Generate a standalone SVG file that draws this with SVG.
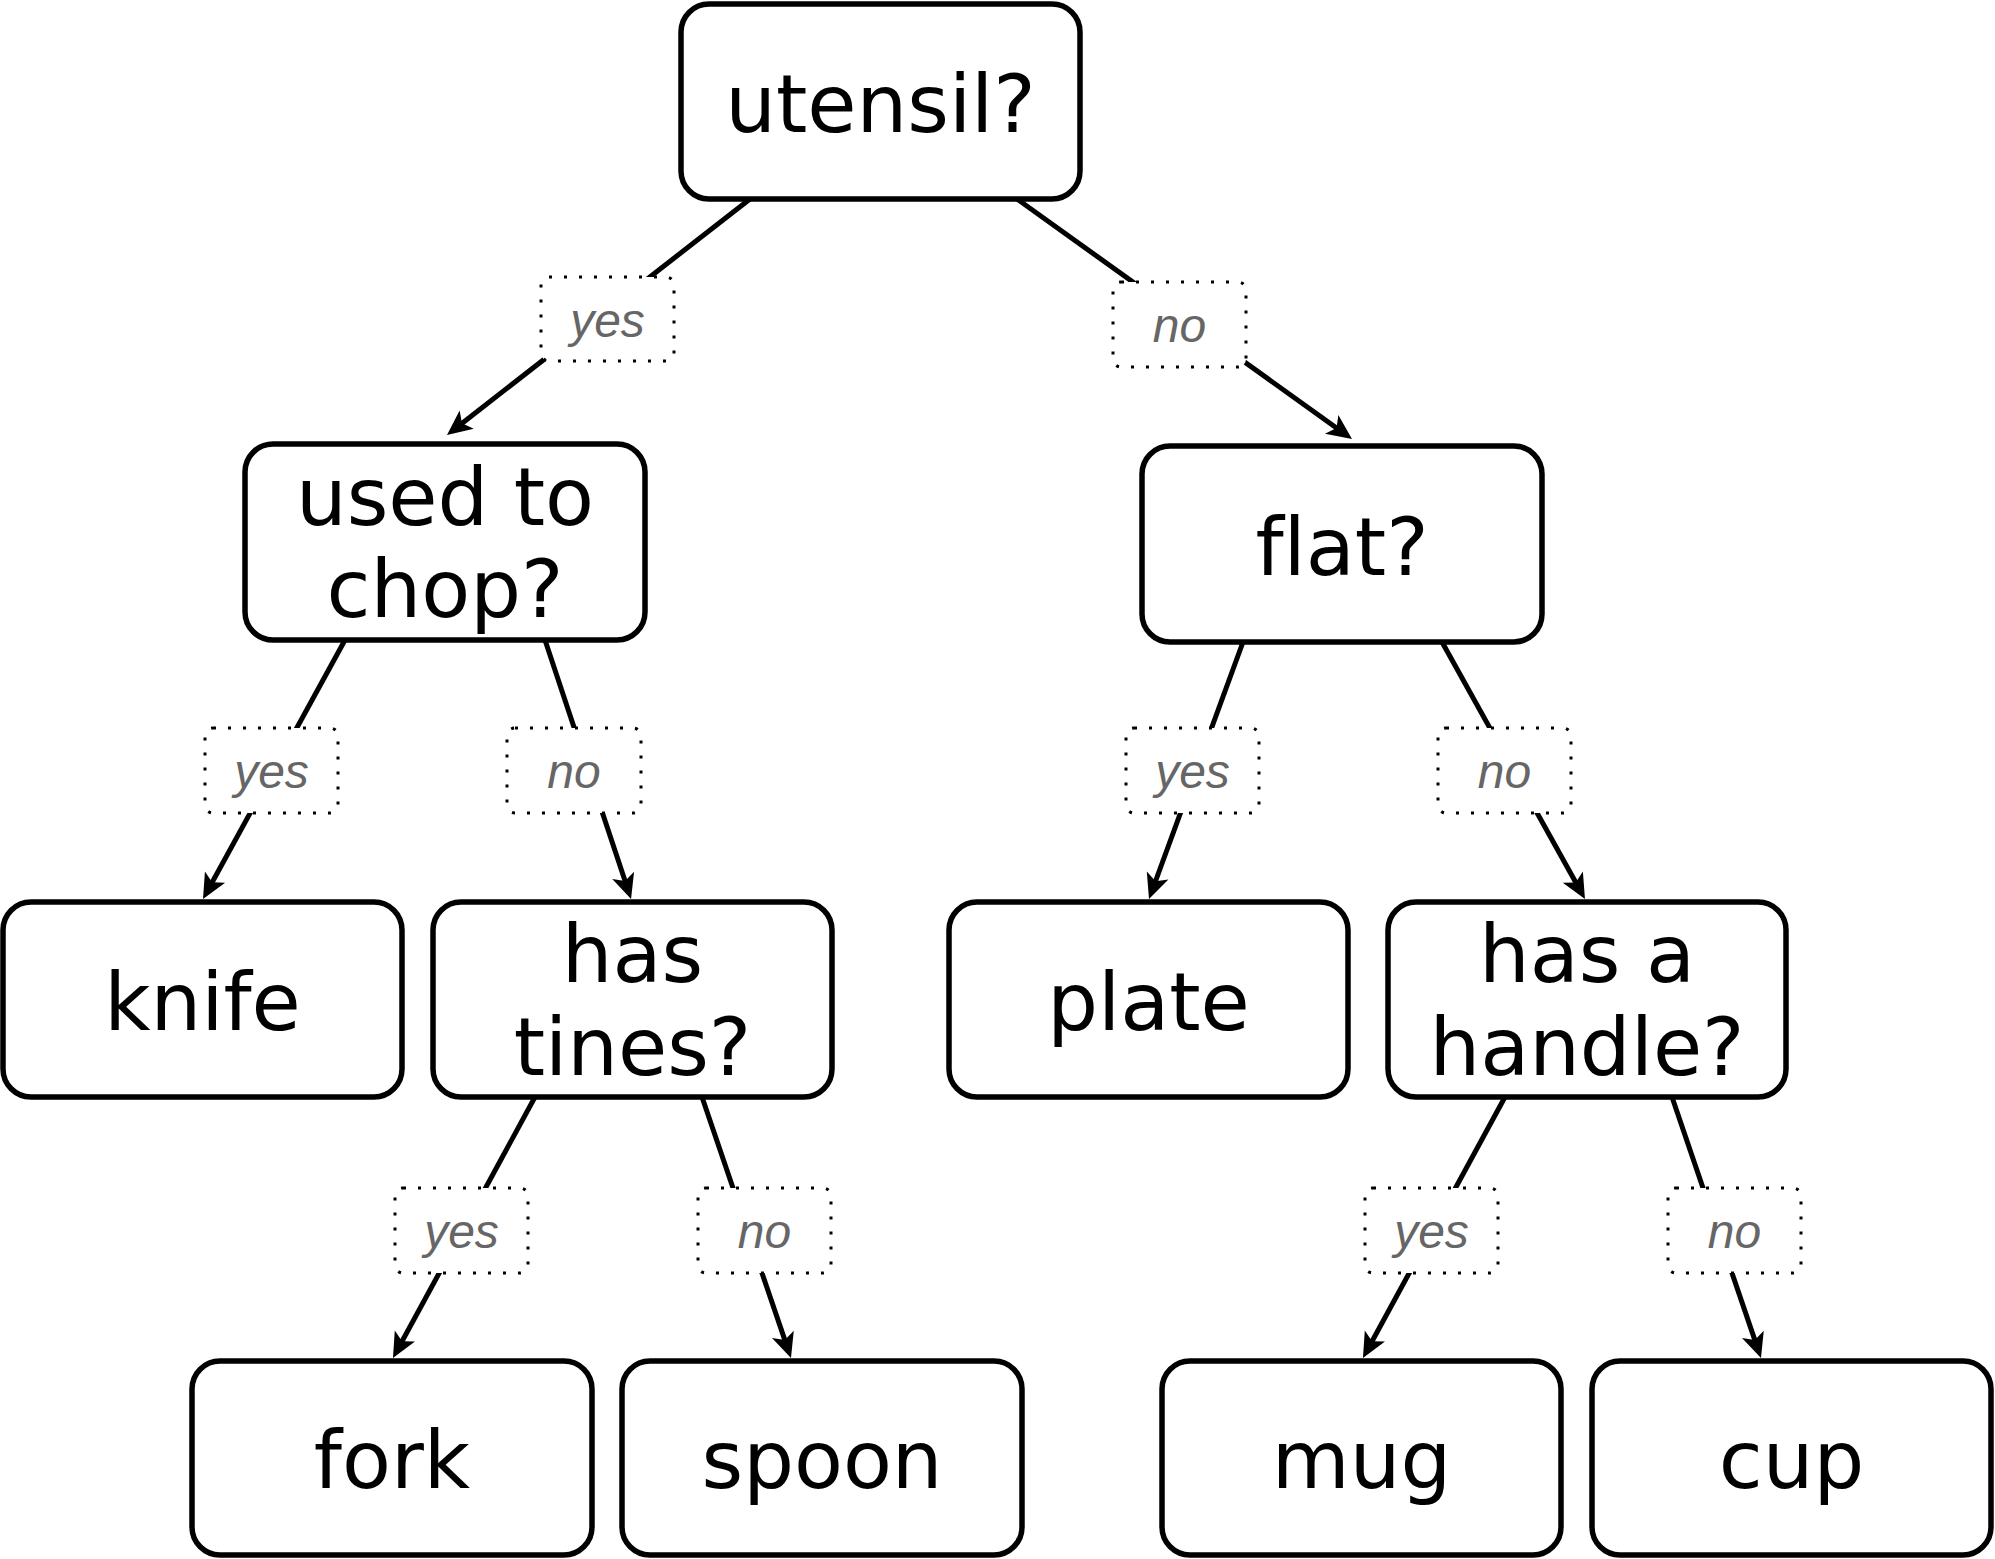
<svg xmlns="http://www.w3.org/2000/svg" width="1995" height="1559" viewBox="0 0 1995 1559">
<style>
.node rect{fill:#fff;stroke:#000;stroke-width:5.5}
.node text{font-family:"DejaVu Sans",sans-serif;font-size:80px;fill:#000;text-anchor:middle;font-variant-ligatures:none;font-feature-settings:"liga" 0,"clig" 0}
.edge{stroke:#000;stroke-width:5;fill:none;marker-end:url(#arrow)}
.lbl rect{fill:#fff;stroke:#000;stroke-width:3;stroke-dasharray:3 12}
.lbl text{font-family:"Liberation Sans",Arial,sans-serif;font-style:italic;font-size:48px;fill:#666;text-anchor:middle}
</style>
<defs>
<marker id="arrow" markerUnits="userSpaceOnUse" viewBox="-12 -14 32 28" markerWidth="32" markerHeight="28" refX="0" refY="0" orient="auto">
<path d="M16,0 L-9,-11.5 L-3,0 L-9,11.5 Z" fill="#000"/>
</marker>
</defs>
<rect width="1995" height="1559" fill="#fff"/>
<g id="connectors">
<line class="edge" x1="750" y1="199" x2="459.6" y2="425.2"/>
<line class="edge" x1="1017" y1="199" x2="1339" y2="429.7"/>
<line class="edge" x1="345" y1="640" x2="210.7" y2="885"/>
<line class="edge" x1="545" y1="640" x2="626" y2="883.8"/>
<line class="edge" x1="1243" y1="642" x2="1154.5" y2="884"/>
<line class="edge" x1="1442" y1="642" x2="1577.2" y2="885"/>
<line class="edge" x1="535" y1="1097" x2="400.6" y2="1344"/>
<line class="edge" x1="702" y1="1097" x2="785.8" y2="1342.9"/>
<line class="edge" x1="1505" y1="1097" x2="1370.6" y2="1344"/>
<line class="edge" x1="1672" y1="1097" x2="1755.8" y2="1342.9"/>
<g class="lbl"><rect x="541" y="277" width="133" height="84" rx="8"/><text x="607.5" y="337">yes</text></g>
<g class="lbl"><rect x="1113" y="282" width="133" height="85" rx="8"/><text x="1179.5" y="342">no</text></g>
<g class="lbl"><rect x="205" y="728" width="133" height="85" rx="8"/><text x="271.5" y="788">yes</text></g>
<g class="lbl"><rect x="507" y="728" width="134" height="85" rx="8"/><text x="574" y="788">no</text></g>
<g class="lbl"><rect x="1126" y="728" width="133" height="85" rx="8"/><text x="1192.5" y="788">yes</text></g>
<g class="lbl"><rect x="1438" y="728" width="133" height="85" rx="8"/><text x="1504.5" y="788">no</text></g>
<g class="lbl"><rect x="395" y="1188" width="133" height="85" rx="8"/><text x="461.5" y="1248">yes</text></g>
<g class="lbl"><rect x="698" y="1188" width="133" height="85" rx="8"/><text x="764.5" y="1248">no</text></g>
<g class="lbl"><rect x="1365" y="1188" width="133" height="85" rx="8"/><text x="1431.5" y="1248">yes</text></g>
<g class="lbl"><rect x="1668" y="1188" width="133" height="85" rx="8"/><text x="1734.5" y="1248">no</text></g>
</g>
<g id="utensil" class="node"><rect x="681" y="4" width="399" height="195" rx="28"/><text x="880.5" y="132">utensil?</text></g>
<g id="chop" class="node"><rect x="245" y="444" width="400" height="196" rx="28"/><text x="445" y="525">used to</text><text x="445" y="617">chop?</text></g>
<g id="flat" class="node"><rect x="1142" y="446" width="400" height="196" rx="28"/><text x="1342" y="575">flat?</text></g>
<g id="knife" class="node"><rect x="3" y="902" width="399" height="195" rx="28"/><text x="202.5" y="1030">knife</text></g>
<g id="tines" class="node"><rect x="433" y="902" width="399" height="195" rx="28"/><text x="632.5" y="982">has</text><text x="632.5" y="1075">tines?</text></g>
<g id="plate" class="node"><rect x="949" y="902" width="399" height="195" rx="28"/><text x="1148.5" y="1030">plate</text></g>
<g id="handle" class="node"><rect x="1388" y="902" width="398" height="195" rx="28"/><text x="1587" y="982">has a</text><text x="1587" y="1075">handle?</text></g>
<g id="fork" class="node"><rect x="192" y="1361" width="400" height="194" rx="28"/><text x="392" y="1488">fork</text></g>
<g id="spoon" class="node"><rect x="622" y="1361" width="400" height="194" rx="28"/><text x="822" y="1488">spoon</text></g>
<g id="mug" class="node"><rect x="1162" y="1361" width="399" height="194" rx="28"/><text x="1361.5" y="1488">mug</text></g>
<g id="cup" class="node"><rect x="1592" y="1361" width="399" height="194" rx="28"/><text x="1791.5" y="1488">cup</text></g>
</svg>
